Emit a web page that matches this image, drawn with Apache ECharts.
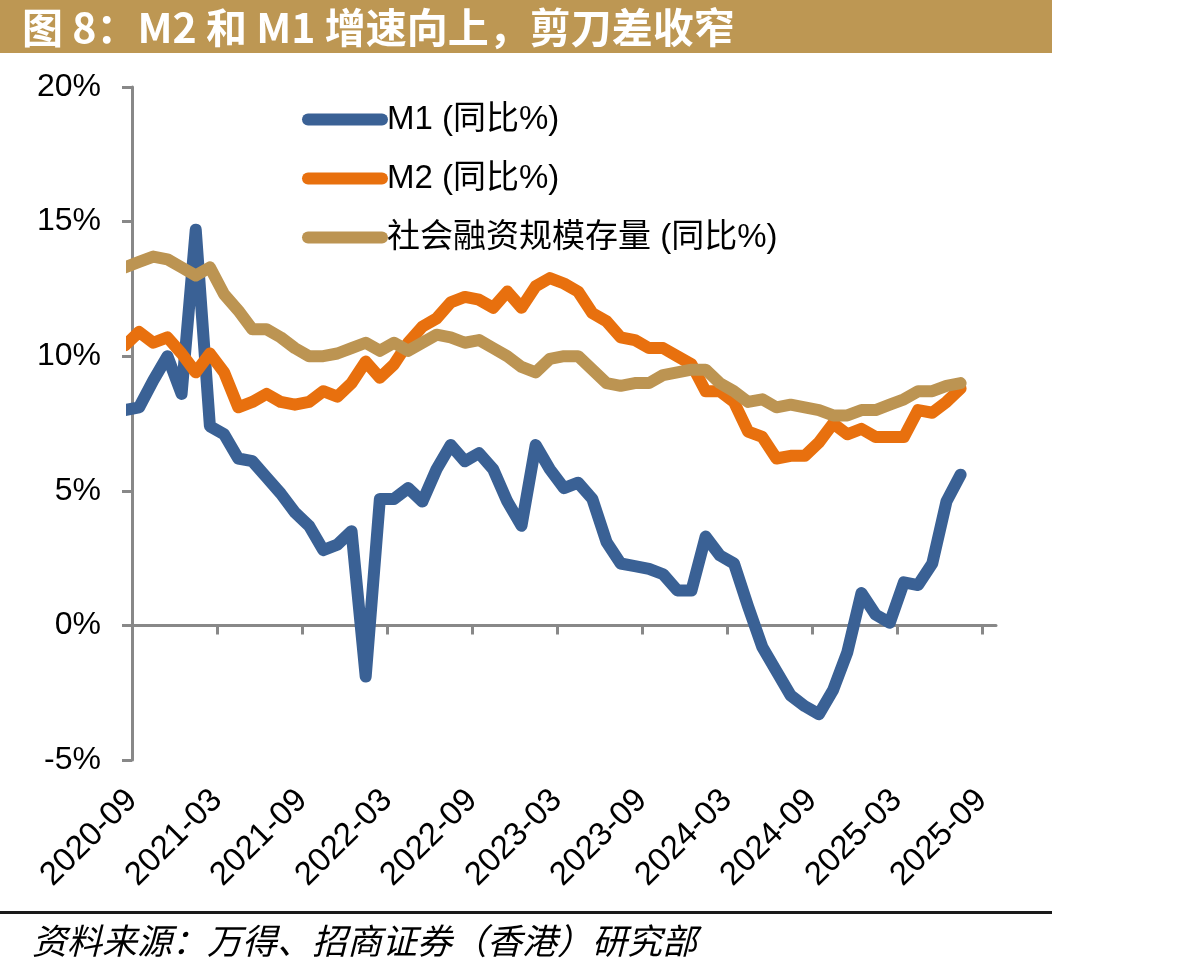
<!DOCTYPE html>
<html>
<head>
<meta charset="utf-8">
<script src="https://cdn.jsdelivr.net/npm/echarts@6/dist/echarts.min.js"></script>
<style>
html, body { margin: 0; background: #fff; }
#chart { width: 1183px; height: 971px; }
</style>
</head>
<body>
<div id="chart"></div>
<script>
// 月度数据：2020-08 ~ 2025-07
const months = [
  "2020-08", "2020-09", "2020-10", "2020-11", "2020-12",
  "2021-01", "2021-02", "2021-03", "2021-04", "2021-05", "2021-06", "2021-07", "2021-08", "2021-09", "2021-10", "2021-11", "2021-12",
  "2022-01", "2022-02", "2022-03", "2022-04", "2022-05", "2022-06", "2022-07", "2022-08", "2022-09", "2022-10", "2022-11", "2022-12",
  "2023-01", "2023-02", "2023-03", "2023-04", "2023-05", "2023-06", "2023-07", "2023-08", "2023-09", "2023-10", "2023-11", "2023-12",
  "2024-01", "2024-02", "2024-03", "2024-04", "2024-05", "2024-06", "2024-07", "2024-08", "2024-09", "2024-10", "2024-11", "2024-12",
  "2025-01", "2025-02", "2025-03", "2025-04", "2025-05", "2025-06", "2025-07"
];

// M1 同比
const m1 = [
  8.0, 8.1, 9.1, 10.0, 8.6,
  14.7, 7.4, 7.1, 6.2, 6.1, 5.5, 4.9, 4.2, 3.7, 2.8, 3.0, 3.5,
  -1.9, 4.7, 4.7, 5.1, 4.6, 5.8, 6.7, 6.1, 6.4, 5.8, 4.6, 3.7,
  6.7, 5.8, 5.1, 5.3, 4.7, 3.1, 2.3, 2.2, 2.1, 1.9, 1.3, 1.3,
  3.3, 2.6, 2.3, 0.7, -0.8, -1.7, -2.6, -3.0, -3.3, -2.4, -1.0, 1.2,
  0.4, 0.1, 1.6, 1.5, 2.3, 4.6, 5.6
];

// M2 同比
const m2 = [
  10.4, 10.9, 10.5, 10.7, 10.1,
  9.4, 10.1, 9.4, 8.1, 8.3, 8.6, 8.3, 8.2, 8.3, 8.7, 8.5, 9.0,
  9.8, 9.2, 9.7, 10.5, 11.1, 11.4, 12.0, 12.2, 12.1, 11.8, 12.4, 11.8,
  12.6, 12.9, 12.7, 12.4, 11.6, 11.3, 10.7, 10.6, 10.3, 10.3, 10.0, 9.7,
  8.7, 8.7, 8.3, 7.2, 7.0, 6.2, 6.3, 6.3, 6.8, 7.5, 7.1, 7.3,
  7.0, 7.0, 7.0, 8.0, 7.9, 8.3, 8.8
];

// 社会融资规模存量同比
const tsf = [
  13.3, 13.5, 13.7, 13.6, 13.3,
  13.0, 13.3, 12.3, 11.7, 11.0, 11.0, 10.7, 10.3, 10.0, 10.0, 10.1, 10.3,
  10.5, 10.2, 10.5, 10.2, 10.5, 10.8, 10.7, 10.5, 10.6, 10.3, 10.0, 9.6,
  9.4, 9.9, 10.0, 10.0, 9.5, 9.0, 8.9, 9.0, 9.0, 9.3, 9.4, 9.5,
  9.5, 9.0, 8.7, 8.3, 8.4, 8.1, 8.2, 8.1, 8.0, 7.8, 7.8, 8.0,
  8.0, 8.2, 8.4, 8.7, 8.7, 8.9, 9.0
];

const tickLabels = [
  "2020-09", "2021-03", "2021-09", "2022-03", "2022-09", "2023-03",
  "2023-09", "2024-03", "2024-09", "2025-03", "2025-09"
];

const seriesNames = ["M1 (同比%)", "M2 (同比%)", "社会融资规模存量 (同比%)"];
const colors = ["#3A6195", "#E8700E", "#BC9452"];

// 横轴以 2020-09 为 0，按月计数，数据点落在月中
function monthPos(s) {
  const y = +s.slice(0, 4), m = +s.slice(5, 7);
  return (y - 2020) * 12 + (m - 9) + 0.5;
}
function pairs(arr) {
  return arr.map((v, i) => [monthPos(months[i]), v]);
}

const tickValues = tickLabels.map((_, i) => i * 6);
const FONT = '"Liberation Sans", "Noto Sans CJK SC", sans-serif';

const chart = echarts.init(document.getElementById("chart"), null, { renderer: "canvas" });

chart.setOption({
  animation: false,
  backgroundColor: "#fff",
  color: colors,
  grid: { left: 132, top: 87, width: 864, height: 673, containLabel: false },
  legend: {
    orient: "vertical",
    left: 297,
    top: 98,
    itemWidth: 74,
    itemHeight: 14,
    itemGap: 26,
    lineStyle: { width: 12, cap: "round" },
    itemStyle: { opacity: 0 },
    textStyle: { fontFamily: FONT, fontSize: 33, color: "#000" },
    data: seriesNames
  },
  xAxis: [
    {
      // 刻度标签（底部）
      type: "value",
      position: "bottom",
      min: 0,
      max: 61,
      interval: 6,
      axisLine: { show: false, onZero: false },
      axisTick: { show: false },
      splitLine: { show: false },
      axisLabel: {
        customValues: tickValues,
        rotate: 45,
        margin: 35,
        fontFamily: FONT,
        fontSize: 33,
        color: "#000",
        formatter: v => tickLabels[Math.round(v / 6)] || ""
      }
    },
    {
      // 零轴及刻度线
      type: "value",
      position: "bottom",
      min: 0,
      max: 61,
      interval: 6,
      axisLine: { show: true, onZero: true, lineStyle: { color: "#888", width: 3 } },
      axisTick: { show: true, customValues: tickValues.slice(1), length: 9, lineStyle: { color: "#888", width: 3 } },
      axisLabel: { show: false },
      splitLine: { show: false }
    }
  ],
  yAxis: {
    type: "value",
    min: -5,
    max: 20,
    interval: 5,
    axisLine: { show: true, lineStyle: { color: "#888", width: 3 } },
    axisTick: { show: true, length: 10, lineStyle: { color: "#888", width: 3 } },
    splitLine: { show: false },
    axisLabel: {
      margin: 31,
      fontFamily: FONT,
      fontSize: 32,
      color: "#000",
      formatter: v => v + "%"
    }
  },
  series: [m1, m2, tsf].map((arr, i) => ({
    name: seriesNames[i],
    type: "line",
    xAxisIndex: 0,
    data: pairs(arr),
    showSymbol: false,
    symbol: "none",
    clip: true,
    lineStyle: { width: 12, color: colors[i], cap: "round", join: "round" },
    itemStyle: { color: colors[i] },
    emphasis: { disabled: true }
  })),
  graphic: [
    {
      type: "rect",
      shape: { x: 0, y: 0, width: 1052, height: 53 },
      style: { fill: "#BD9753" },
      silent: true
    },
    {
      type: "text",
      x: 22,
      y: 27,
      style: {
        text: "图 8：M2 和 M1 增速向上，剪刀差收窄",
        fill: "#fff",
        font: 'bold 41px "Noto Sans CJK SC", sans-serif',
        verticalAlign: "middle",
        align: "left"
      },
      silent: true
    },
    {
      type: "rect",
      shape: { x: 0, y: 911, width: 1052, height: 3 },
      style: { fill: "#1a1a1a" },
      silent: true
    },
    {
      type: "text",
      x: 32,
      y: 941,
      style: {
        text: "资料来源：万得、招商证券（香港）研究部",
        fill: "#000",
        font: 'italic 35px "Noto Sans CJK SC", sans-serif',
        verticalAlign: "middle",
        align: "left"
      },
      silent: true
    }
  ]
});
</script>
</body>
</html>
